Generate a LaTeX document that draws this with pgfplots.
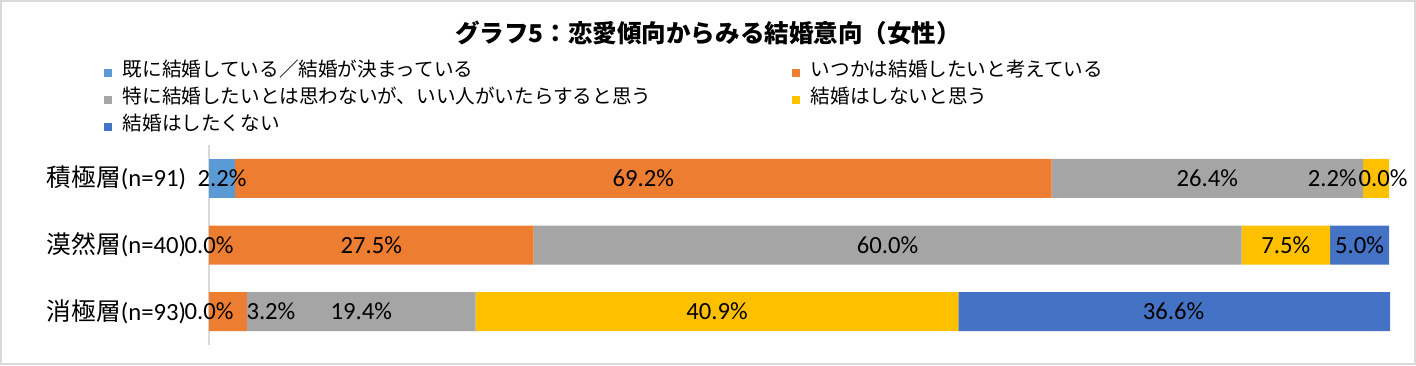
\documentclass[border=0pt]{standalone}
\usepackage{pgfplots}
\pgfplotsset{compat=1.18}
\usepackage{fontspec}
\setmainfont{Carlito}
\newfontfamily\cjk{Noto Sans CJK JP}
\definecolor{c1}{HTML}{5B9BD5}
\definecolor{c2}{HTML}{ED7D31}
\definecolor{c3}{HTML}{A5A5A5}
\definecolor{c4}{HTML}{FFC000}
\definecolor{c5}{HTML}{4472C4}
\tikzset{lbl/.style={font=\fontsize{18.5}{20}\selectfont, inner sep=0pt}}
\begin{document}
\begin{tikzpicture}[x=0.75pt,y=0.75pt]
\path[use as bounding box] (0,0) rectangle (1416,365);
\draw[black!15, line width=1.5pt] (1,1) rectangle (1415,364);
\node[font=\bfseries\fontsize{18.4}{22}\selectfont] at (708,332) {\cjk グラフ5：恋愛傾向からみる結婚意向（女性）};
\begin{axis}[
  at={(156.75pt,15pt)}, anchor=south west,
  scale only axis, width=885pt, height=150pt,
  xbar stacked, bar width=29.25pt,
  xmin=0, xmax=100, ymin=0.5, ymax=3.5, y dir=reverse,
  clip=false,
  axis x line=none, axis y line*=left,
  y axis line style={draw=black!15, line width=0.8pt},
  xtick=\empty, ytick={1,2,3}, major tick length=0pt,
  yticklabels={{\cjk 積極層}(n=91),{\cjk 漠然層}(n=40),{\cjk 消極層}(n=93)},
  yticklabel style={font=\fontsize{18.5}{20}\selectfont, inner sep=0pt, xshift=-17pt},
  legend cell align=left,
  legend columns=2,
  legend style={at={(axis description cs:-0.089,1.43)}, anchor=north west,
    draw=none, fill=none, inner sep=0pt, row sep=0pt,
    font=\fontsize{14.7}{16}\selectfont,
    nodes={inner sep=0pt, text height=13pt, text depth=7.25pt}},
  legend image code/.code={\fill[#1] (0pt,-3pt) rectangle (6pt,3pt);},
]
\addplot[fill=c1, draw=none] coordinates {(2.2,1) (0.0,2) (0.0,3)};
\addlegendentry{\hspace{8pt}\makebox[502pt][l]{\cjk 既に結婚している／結婚が決まっている}}
\addplot[fill=c2, draw=none] coordinates {(69.2,1) (27.5,2) (3.2,3)};
\addlegendentry{\hspace{8pt}{\cjk いつかは結婚したいと考えている}}
\addplot[fill=c3, draw=none] coordinates {(26.4,1) (60.0,2) (19.4,3)};
\addlegendentry{\hspace{8pt}\makebox[502pt][l]{\cjk 特に結婚したいとは思わないが、いい人がいたらすると思う}}
\addplot[fill=c4, draw=none] coordinates {(2.2,1) (7.5,2) (40.9,3)};
\addlegendentry{\hspace{8pt}{\cjk 結婚はしないと思う}}
\addplot[fill=c5, draw=none] coordinates {(0.0,1) (5.0,2) (36.6,3)};
\addlegendentry{\hspace{8pt}{\cjk 結婚はしたくない}}
\coordinate (a1) at (axis cs:1.1,1);
\coordinate (a2) at (axis cs:36.8,1);
\coordinate (a3) at (axis cs:84.6,1);
\coordinate (a4) at (axis cs:95.2,1);
\coordinate (a5) at (axis cs:99.5,1);
\coordinate (b1) at (axis cs:0,2);
\coordinate (b2) at (axis cs:13.75,2);
\coordinate (b3) at (axis cs:57.5,2);
\coordinate (b4) at (axis cs:91.25,2);
\coordinate (b5) at (axis cs:97.5,2);
\coordinate (d1) at (axis cs:0,3);
\coordinate (d2) at (axis cs:5.25,3);
\coordinate (d3) at (axis cs:12.9,3);
\coordinate (d4) at (axis cs:43.05,3);
\coordinate (d5) at (axis cs:81.75,3);
\end{axis}
\node[lbl] at (a1) {2.2\%};
\node[lbl] at (a2) {69.2\%};
\node[lbl] at (a3) {26.4\%};
\node[lbl] at (a4) {2.2\%};
\node[lbl] at (a5) {0.0\%};
\node[lbl] at (b1) {0.0\%};
\node[lbl] at (b2) {27.5\%};
\node[lbl] at (b3) {60.0\%};
\node[lbl] at (b4) {7.5\%};
\node[lbl] at (b5) {5.0\%};
\node[lbl] at (d1) {0.0\%};
\node[lbl] at (d2) {3.2\%};
\node[lbl] at (d3) {19.4\%};
\node[lbl] at (d4) {40.9\%};
\node[lbl] at (d5) {36.6\%};
\end{tikzpicture}
\end{document}
